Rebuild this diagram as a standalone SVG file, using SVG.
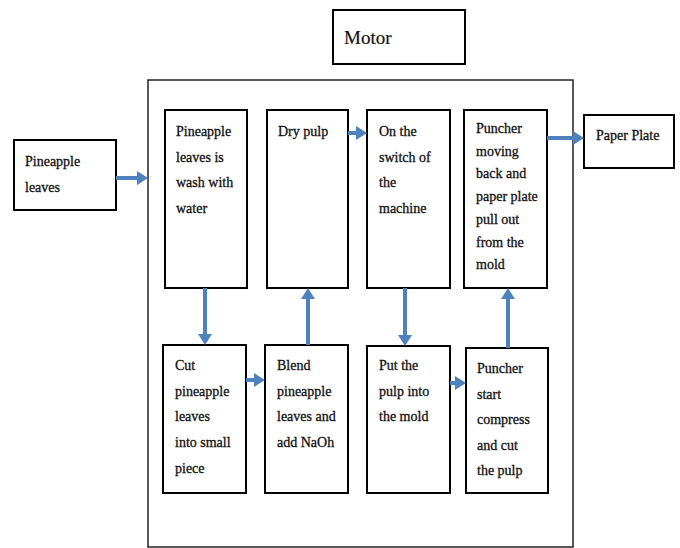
<svg xmlns="http://www.w3.org/2000/svg" width="680" height="548" viewBox="0 0 680 548">
<style>
.box{fill:#fff;stroke:#000;stroke-width:2}
.cont{fill:#fff;stroke:#222;stroke-width:1.5}
text{font-family:'Liberation Serif','DejaVu Serif','Times New Roman',serif;font-size:14px;fill:#111;stroke:#111;stroke-width:0.3}
.big{font-size:19px;stroke-width:0.2}
.arr{stroke:#4f81bd;stroke-width:4;fill:none}
</style>
<defs>
<marker id="ah" viewBox="0 0 11 14" refX="1" refY="7" markerWidth="11" markerHeight="14" markerUnits="userSpaceOnUse" orient="auto">
<path d="M0,0 L11,7 L0,14 Z" fill="#4f81bd"/>
</marker>
</defs>
<rect width="680" height="548" fill="#fff"/>
<g id="motor">
<rect class="box" x="333" y="10" width="132" height="54"/>
<text class="big" x="344" y="44">Motor</text>
</g>
<g id="machine">
<rect class="cont" x="148" y="80" width="425" height="467"/>
</g>
<g id="input">
<rect class="box" x="14" y="140" width="102" height="70"/>
<text x="25" y="166">Pineapple<tspan x="25" dy="26">leaves</tspan></text>
</g>
<g id="wash">
<rect class="box" x="165" y="110" width="82" height="178"/>
<text x="176" y="136">Pineapple<tspan x="176" dy="25.5">leaves  is</tspan><tspan x="176" dy="25.5">wash with</tspan><tspan x="176" dy="25.5">water</tspan></text>
</g>
<g id="dry">
<rect class="box" x="267" y="110" width="81" height="178"/>
<text x="278" y="136">Dry pulp</text>
</g>
<g id="switch">
<rect class="box" x="367" y="110" width="83" height="178"/>
<text x="379" y="136">On the<tspan x="379" dy="25.5">switch of</tspan><tspan x="379" dy="25.5">the</tspan><tspan x="379" dy="25.5">machine</tspan></text>
</g>
<g id="pullout">
<rect class="box" x="464" y="110" width="83" height="178"/>
<text x="476" y="133">Puncher<tspan x="476" dy="22.7">moving</tspan><tspan x="476" dy="22.7">back and</tspan><tspan x="476" dy="22.7">paper plate</tspan><tspan x="476" dy="22.7">pull out</tspan><tspan x="476" dy="22.7">from the</tspan><tspan x="476" dy="22.7">mold</tspan></text>
</g>
<g id="output">
<rect class="box" x="584" y="115" width="90" height="53"/>
<text x="596" y="140">Paper Plate</text>
</g>
<g id="cut">
<rect class="box" x="163" y="345" width="83" height="148"/>
<text x="175" y="370">Cut<tspan x="175" dy="25.7">pineapple</tspan><tspan x="175" dy="25.7">leaves</tspan><tspan x="175" dy="25.7">into small</tspan><tspan x="175" dy="25.7">piece</tspan></text>
</g>
<g id="blend">
<rect class="box" x="265" y="345" width="83" height="148"/>
<text x="277" y="370">Blend<tspan x="277" dy="25.7">pineapple</tspan><tspan x="277" dy="25.7">leaves and</tspan><tspan x="277" dy="25.7">add NaOh</tspan></text>
</g>
<g id="mold">
<rect class="box" x="367" y="346" width="83" height="147"/>
<text x="379" y="370">Put the<tspan x="379" dy="25.7">pulp into</tspan><tspan x="379" dy="25.7">the mold</tspan></text>
</g>
<g id="compress">
<rect class="box" x="466" y="348" width="82" height="145"/>
<text x="477" y="373">Puncher<tspan x="477" dy="25.5">start</tspan><tspan x="477" dy="25.5">compress</tspan><tspan x="477" dy="25.5">and cut</tspan><tspan x="477" dy="25.5">the pulp</tspan></text>
</g>
<g id="connectors">
<line class="arr" x1="116" y1="178" x2="138" y2="178" marker-end="url(#ah)"/>
<line class="arr" x1="205" y1="288" x2="205" y2="335" marker-end="url(#ah)"/>
<line class="arr" x1="308" y1="345" x2="308" y2="298" marker-end="url(#ah)"/>
<line class="arr" x1="246" y1="380" x2="255" y2="380" marker-end="url(#ah)"/>
<line class="arr" x1="348" y1="133" x2="357" y2="133" marker-end="url(#ah)"/>
<line class="arr" x1="405" y1="288" x2="405" y2="336" marker-end="url(#ah)"/>
<line class="arr" x1="450" y1="383" x2="456" y2="383" marker-end="url(#ah)"/>
<line class="arr" x1="508" y1="348" x2="508" y2="298" marker-end="url(#ah)"/>
<line class="arr" x1="547" y1="138" x2="574" y2="138" marker-end="url(#ah)"/>
</g>
</svg>
